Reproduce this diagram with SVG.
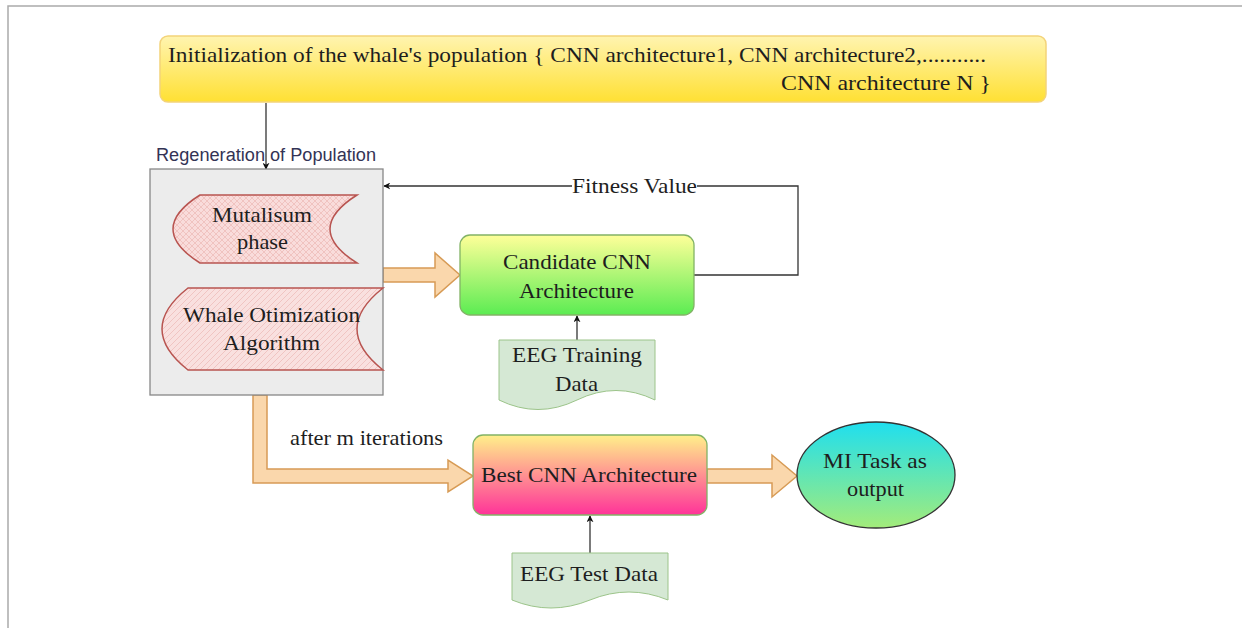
<svg xmlns="http://www.w3.org/2000/svg" width="1242" height="628" viewBox="0 0 1242 628">
<defs>
<style>
.t{font-family:"Liberation Serif","Times New Roman",serif;fill:#1e1e1e;font-size:22px;}
.c{text-anchor:middle;}
.s{font-family:"Liberation Sans",Arial,sans-serif;}
.fat{fill:#fad7ac;stroke:#d79b55;stroke-width:1.5;}
.line{fill:none;stroke:#333;stroke-width:1.3;}
.doc{fill:#d5e8d4;stroke:#9cc48a;stroke-width:1;}
.hatch{stroke:#b85450;stroke-width:1.5;}
</style>
<linearGradient id="gY" x1="0" y1="0" x2="0" y2="1"><stop offset="0" stop-color="#fff4b0"/><stop offset="1" stop-color="#ffe033"/></linearGradient>
<linearGradient id="gG" x1="0" y1="0" x2="0" y2="1"><stop offset="0" stop-color="#ffff99"/><stop offset="1" stop-color="#5bec52"/></linearGradient>
<linearGradient id="gP" x1="0" y1="0" x2="0" y2="1"><stop offset="0" stop-color="#fff08a"/><stop offset="1" stop-color="#ff3399"/></linearGradient>
<linearGradient id="gC" x1="0" y1="0" x2="0" y2="1"><stop offset="0" stop-color="#1fdfef"/><stop offset="1" stop-color="#a3ec7a"/></linearGradient>
<pattern id="cross" width="6" height="6" patternUnits="userSpaceOnUse">
<rect width="6" height="6" fill="#f9dcdb"/>
<path d="M0,6 L6,0 M0,0 L6,6" stroke="#eab1ae" stroke-width="0.6"/>
</pattern>
<pattern id="diag" width="6" height="6" patternUnits="userSpaceOnUse">
<rect width="6" height="6" fill="#f9e0df"/>
<path d="M0,6 L6,0 M-1,1 L1,-1 M5,7 L7,5" stroke="#eab1ae" stroke-width="0.6"/>
</pattern>
<marker id="arr" viewBox="0 0 10 10" refX="9" refY="5" markerWidth="7" markerHeight="7" markerUnits="userSpaceOnUse" orient="auto">
<path d="M0,0 L10,5 L0,10 L3,5 Z" fill="#111"/>
</marker>
</defs>
<rect width="1242" height="628" fill="#fff"/>
<path d="M8,628 V6 H1242" fill="none" stroke="#aaa" stroke-width="1.5"/>

<g id="connectors">
<path class="line" d="M266,103 V169" marker-end="url(#arr)"/>
<path class="line" d="M694,275 H798 V186 H384" marker-end="url(#arr)"/>
<rect x="572" y="176" width="125" height="20" fill="#fff"/>
<text class="t" x="572" y="193" font-size="21" textLength="125" lengthAdjust="spacingAndGlyphs" fill="#333">Fitness Value</text>
<path class="line" d="M577,340 V316" marker-end="url(#arr)"/>
<path class="line" d="M590,553 V516" marker-end="url(#arr)"/>
<polygon class="fat" points="383,268 435,268 435,253 460,275 435,297 435,282 383,282"/>
<polygon class="fat" points="253,395 267,395 267,469 448,469 448,460 473,476 448,492 448,483 253,483"/>
<polygon class="fat" points="707,469 772,469 772,455 797,476 772,497 772,483 707,483"/>
<text class="t" x="290" y="445" font-size="20" textLength="153" lengthAdjust="spacingAndGlyphs">after m iterations</text>
</g>

<g id="init">
<rect x="160" y="36" width="886" height="66" rx="8" fill="url(#gY)" stroke="#f3d37a" stroke-width="1.5"/>
<text class="t" x="168" y="62" font-size="22" textLength="818" lengthAdjust="spacingAndGlyphs">Initialization of the whale's population { CNN architecture1, CNN architecture2,...........</text>
<text class="t" x="781" y="90" font-size="22" textLength="210" lengthAdjust="spacingAndGlyphs">CNN architecture N  }</text>
</g>

<g id="regeneration">
<text class="s" x="156" y="161" font-size="18" textLength="220" lengthAdjust="spacingAndGlyphs" fill="#333355">Regeneration of Population</text>
<rect x="150" y="169" width="233" height="226" fill="#ececec" stroke="#888" stroke-width="1.3"/>
</g>

<g id="mutalisum">
<path d="M200,195 H357 Q303,229 357,263 H200 Q146,229 200,195 Z" fill="url(#cross)" class="hatch"/>
<text class="t" x="212" y="222" textLength="100" lengthAdjust="spacingAndGlyphs">Mutalisum</text>
<text class="t" x="237" y="249" textLength="51" lengthAdjust="spacingAndGlyphs">phase</text>
</g>

<g id="woa">
<path d="M188,288 H383 Q331,329 383,370 H188 Q136,329 188,288 Z" fill="url(#diag)" class="hatch"/>
<text class="t" x="183" y="322" textLength="177" lengthAdjust="spacingAndGlyphs">Whale Otimization</text>
<text class="t" x="223" y="350" textLength="97" lengthAdjust="spacingAndGlyphs">Algorithm</text>
</g>

<g id="candidate">
<rect x="460" y="235" width="234" height="80" rx="10" fill="url(#gG)" stroke="#82b366" stroke-width="1.3"/>
<text class="t" x="503" y="269" textLength="148" lengthAdjust="spacingAndGlyphs">Candidate CNN</text>
<text class="t" x="519" y="298" textLength="115" lengthAdjust="spacingAndGlyphs">Architecture</text>
</g>

<g id="training">
<path class="doc" d="M499,340 H655 V400 Q616,381 577,400 Q538,419 499,400 Z"/>
<text class="t" x="512" y="362" textLength="130" lengthAdjust="spacingAndGlyphs">EEG Training</text>
<text class="t" x="555" y="391" textLength="43" lengthAdjust="spacingAndGlyphs">Data</text>
</g>

<g id="best">
<rect x="473" y="435" width="234" height="80" rx="10" fill="url(#gP)" stroke="#82b366" stroke-width="1.3"/>
<text class="t" x="481" y="482" textLength="216" lengthAdjust="spacingAndGlyphs">Best CNN Architecture</text>
</g>

<g id="test">
<path class="doc" d="M512,553 H668 V600 Q629,584 590,600 Q551,616 512,600 Z"/>
<text class="t" x="520" y="581" textLength="138" lengthAdjust="spacingAndGlyphs">EEG Test Data</text>
</g>

<g id="output">
<ellipse cx="876" cy="475" rx="79" ry="53" fill="url(#gC)" stroke="#333" stroke-width="1.3"/>
<text class="t" x="823" y="468" textLength="104" lengthAdjust="spacingAndGlyphs">MI Task as</text>
<text class="t" x="847" y="496" textLength="57" lengthAdjust="spacingAndGlyphs">output</text>
</g>
</svg>
